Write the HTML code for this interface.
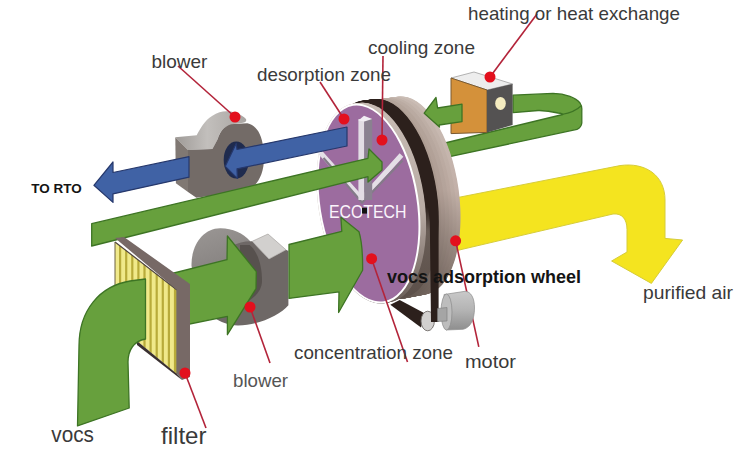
<!DOCTYPE html>
<html><head><meta charset="utf-8"><style>html,body{margin:0;padding:0;background:#fff;width:750px;height:456px;overflow:hidden}svg{display:block}</style></head>
<body><svg width="750" height="456" viewBox="0 0 750 456"><defs><clipPath id="fclip"><path d="M115,242 L177,290 L177,374 L137,341 L115,324 Z"/></clipPath></defs>

<defs>
<linearGradient id="btop" x1="0" y1="0" x2="1" y2="0"><stop offset="0" stop-color="#9e9a97"/><stop offset="0.45" stop-color="#c2bfbc"/><stop offset="1" stop-color="#a9a5a2"/></linearGradient>
<linearGradient id="btop2" x1="0" y1="0" x2="1" y2="0"><stop offset="0" stop-color="#8c8886"/><stop offset="0.6" stop-color="#b8b5b3"/><stop offset="1" stop-color="#8e8a88"/></linearGradient>
</defs>
<g id="blower1">
 <path d="M175.3,137.3 L196.7,135.3 C200,129 205,120 212,116 C218,112 223,111 228,111.3 C236,112 242,115 246,119 C247,121 245.5,122.3 243,122.8 L234,124 C228,126 224,128 223.3,128.7 C220,132 218.5,136 217.4,139.7 L212.4,149 L188,150 Z" fill="url(#btop)"/>
 <path d="M175.3,137.3 L188,150 L188,192 L175.9,183.2 Z" fill="#807873"/>
 <path d="M188,150 L212.4,149 L217.4,139.7 C219,135 221,131 223.3,128.7 C227,126 230,124 234,124 L247.3,123.3 C251,124 254,126 256.7,129.3 C261,134 264,145 264,158 C264,178 254,192 238,192 L196.4,197.7 L188,192 Z" fill="#736b67"/>
 <ellipse cx="236.3" cy="160" rx="12.6" ry="18.6" fill="#1f2b4e"/>
</g>
<path d="M440,201 L620,165.6 C645,162 665,175 665,200 L665,238.4 L682.6,240 L651.4,283.4 L611.6,261 L627,252 L627,229.7 C627,219 622,213 613,214 L455,251 Z" fill="#f4e41f" stroke="#d6cc3a" stroke-width="1"/>
<path d="M445,143 L562.8,114.5 C563,113.8 561,113.4 558,113 C550,111 545,110.3 538,110.5 L513,112.7 L513,95.2 L553,93.4 C566,93.5 576,98 580,103 C582,106 582,108 581.8,110 L581.8,123 C581.5,126 580,128 577,129.3 L445,157.7 Z" fill="#67a03d" stroke="#3d7424" stroke-width="1.3" stroke-linejoin="round"/>
<path d="M561.6,114.5 C570,113 577,110 580.9,106" fill="none" stroke="#3d7424" stroke-width="1.1"/>
<defs><linearGradient id="rim0" gradientUnits="userSpaceOnUse" x1="0" y1="95" x2="0" y2="300"><stop offset="0" stop-color="#b0a096"/><stop offset="0.5" stop-color="#ab9a90"/><stop offset="0.85" stop-color="#7d6f68"/><stop offset="1" stop-color="#645851"/></linearGradient><linearGradient id="rim1" gradientUnits="userSpaceOnUse" x1="0" y1="95" x2="0" y2="300"><stop offset="0" stop-color="#b5a69c"/><stop offset="0.5" stop-color="#b09e95"/><stop offset="0.85" stop-color="#80726b"/><stop offset="1" stop-color="#665a53"/></linearGradient><linearGradient id="rim2" gradientUnits="userSpaceOnUse" x1="0" y1="95" x2="0" y2="300"><stop offset="0" stop-color="#bbaca3"/><stop offset="0.5" stop-color="#b4a39a"/><stop offset="0.85" stop-color="#83756d"/><stop offset="1" stop-color="#685c55"/></linearGradient><linearGradient id="rim3" gradientUnits="userSpaceOnUse" x1="0" y1="95" x2="0" y2="300"><stop offset="0" stop-color="#c0b2a9"/><stop offset="0.5" stop-color="#b9a79e"/><stop offset="0.85" stop-color="#867770"/><stop offset="1" stop-color="#6b5e57"/></linearGradient><linearGradient id="rim4" gradientUnits="userSpaceOnUse" x1="0" y1="95" x2="0" y2="300"><stop offset="0" stop-color="#c6b8b0"/><stop offset="0.5" stop-color="#bdaca3"/><stop offset="0.85" stop-color="#897a72"/><stop offset="1" stop-color="#6d6059"/></linearGradient><linearGradient id="rim5" gradientUnits="userSpaceOnUse" x1="0" y1="95" x2="0" y2="300"><stop offset="0" stop-color="#cbbeb6"/><stop offset="0.5" stop-color="#c2b0a8"/><stop offset="0.85" stop-color="#8c7d75"/><stop offset="1" stop-color="#6f625b"/></linearGradient></defs>
<defs><linearGradient id="rimg" gradientUnits="userSpaceOnUse" x1="0" y1="95" x2="0" y2="300"><stop offset="0" stop-color="#c9bcb4"/><stop offset="0.5" stop-color="#bfaea6"/><stop offset="0.85" stop-color="#8a7b73"/><stop offset="1" stop-color="#6e615a"/></linearGradient><linearGradient id="rimg2" gradientUnits="userSpaceOnUse" x1="0" y1="95" x2="0" y2="300"><stop offset="0" stop-color="#b3a399"/><stop offset="0.5" stop-color="#ae9d94"/><stop offset="0.85" stop-color="#7d6f68"/><stop offset="1" stop-color="#645851"/></linearGradient>
<linearGradient id="beltg" gradientUnits="userSpaceOnUse" x1="0" y1="95" x2="0" y2="300"><stop offset="0" stop-color="#2c201c"/><stop offset="0.585" stop-color="#2c201c"/><stop offset="0.7" stop-color="#6a5e57"/><stop offset="1" stop-color="#5c504a"/></linearGradient><linearGradient id="ringg" gradientUnits="userSpaceOnUse" x1="0" y1="95" x2="0" y2="300"><stop offset="0" stop-color="#c9bdb6"/><stop offset="0.6" stop-color="#b9aca5"/><stop offset="1" stop-color="#6e625c"/></linearGradient></defs>
<g id="wheel">
<ellipse cx="412.00" cy="195.50" rx="47.00" ry="99.80" transform="rotate(-7.85 412.00 195.50)" fill="url(#rim5)"/>
<ellipse cx="411.39" cy="195.60" rx="47.04" ry="99.82" transform="rotate(-7.87 411.39 195.60)" fill="url(#rim5)"/>
<ellipse cx="410.77" cy="195.70" rx="47.09" ry="99.83" transform="rotate(-7.88 410.77 195.70)" fill="url(#rim5)"/>
<ellipse cx="410.16" cy="195.80" rx="47.13" ry="99.85" transform="rotate(-7.90 410.16 195.80)" fill="url(#rim5)"/>
<ellipse cx="409.54" cy="195.90" rx="47.18" ry="99.86" transform="rotate(-7.92 409.54 195.90)" fill="url(#rim5)"/>
<ellipse cx="408.93" cy="196.00" rx="47.22" ry="99.88" transform="rotate(-7.93 408.93 196.00)" fill="url(#rim5)"/>
<ellipse cx="408.31" cy="196.10" rx="47.27" ry="99.89" transform="rotate(-7.95 408.31 196.10)" fill="url(#rim5)"/>
<ellipse cx="407.70" cy="196.20" rx="47.31" ry="99.91" transform="rotate(-7.96 407.70 196.20)" fill="url(#rim4)"/>
<ellipse cx="407.09" cy="196.30" rx="47.35" ry="99.93" transform="rotate(-7.98 407.09 196.30)" fill="url(#rim4)"/>
<ellipse cx="406.47" cy="196.40" rx="47.40" ry="99.94" transform="rotate(-8.00 406.47 196.40)" fill="url(#rim4)"/>
<ellipse cx="405.86" cy="196.50" rx="47.44" ry="99.96" transform="rotate(-8.01 405.86 196.50)" fill="url(#rim4)"/>
<ellipse cx="405.24" cy="196.60" rx="47.49" ry="99.97" transform="rotate(-8.03 405.24 196.60)" fill="url(#rim4)"/>
<ellipse cx="404.63" cy="196.70" rx="47.53" ry="99.99" transform="rotate(-8.05 404.63 196.70)" fill="url(#rim4)"/>
<ellipse cx="404.01" cy="196.80" rx="47.58" ry="100.00" transform="rotate(-8.06 404.01 196.80)" fill="url(#rim4)"/>
<ellipse cx="403.40" cy="196.90" rx="47.62" ry="100.02" transform="rotate(-8.08 403.40 196.90)" fill="url(#rim3)"/>
<ellipse cx="402.79" cy="197.00" rx="47.66" ry="100.04" transform="rotate(-8.10 402.79 197.00)" fill="url(#rim3)"/>
<ellipse cx="402.17" cy="197.10" rx="47.71" ry="100.05" transform="rotate(-8.11 402.17 197.10)" fill="url(#rim3)"/>
<ellipse cx="401.56" cy="197.20" rx="47.75" ry="100.07" transform="rotate(-8.13 401.56 197.20)" fill="url(#rim3)"/>
<ellipse cx="400.94" cy="197.30" rx="47.80" ry="100.08" transform="rotate(-8.15 400.94 197.30)" fill="url(#rim3)"/>
<ellipse cx="400.33" cy="197.40" rx="47.84" ry="100.10" transform="rotate(-8.16 400.33 197.40)" fill="url(#rim3)"/>
<ellipse cx="399.71" cy="197.50" rx="47.89" ry="100.11" transform="rotate(-8.18 399.71 197.50)" fill="url(#rim2)"/>
<ellipse cx="399.10" cy="197.60" rx="47.93" ry="100.13" transform="rotate(-8.20 399.10 197.60)" fill="url(#rim2)"/>
<ellipse cx="398.49" cy="197.70" rx="47.97" ry="100.15" transform="rotate(-8.21 398.49 197.70)" fill="url(#rim2)"/>
<ellipse cx="397.87" cy="197.80" rx="48.02" ry="100.16" transform="rotate(-8.23 397.87 197.80)" fill="url(#rim2)"/>
<ellipse cx="397.26" cy="197.90" rx="48.06" ry="100.18" transform="rotate(-8.24 397.26 197.90)" fill="url(#rim2)"/>
<ellipse cx="396.64" cy="198.00" rx="48.11" ry="100.19" transform="rotate(-8.26 396.64 198.00)" fill="url(#rim2)"/>
<ellipse cx="396.03" cy="198.10" rx="48.15" ry="100.21" transform="rotate(-8.28 396.03 198.10)" fill="url(#rim2)"/>
<ellipse cx="395.41" cy="198.20" rx="48.20" ry="100.22" transform="rotate(-8.29 395.41 198.20)" fill="url(#rim1)"/>
<ellipse cx="394.80" cy="198.30" rx="48.24" ry="100.24" transform="rotate(-8.31 394.80 198.30)" fill="url(#rim1)"/>
<ellipse cx="394.19" cy="198.40" rx="48.28" ry="100.26" transform="rotate(-8.33 394.19 198.40)" fill="url(#rim1)"/>
<ellipse cx="393.57" cy="198.50" rx="48.33" ry="100.27" transform="rotate(-8.34 393.57 198.50)" fill="url(#rim1)"/>
<ellipse cx="392.96" cy="198.60" rx="48.37" ry="100.29" transform="rotate(-8.36 392.96 198.60)" fill="url(#rim1)"/>
<ellipse cx="392.34" cy="198.70" rx="48.42" ry="100.30" transform="rotate(-8.38 392.34 198.70)" fill="url(#rim1)"/>
<ellipse cx="391.73" cy="198.80" rx="48.46" ry="100.32" transform="rotate(-8.39 391.73 198.80)" fill="url(#rim1)"/>
<ellipse cx="391.11" cy="198.90" rx="48.51" ry="100.33" transform="rotate(-8.41 391.11 198.90)" fill="url(#rim0)"/>
<ellipse cx="390.50" cy="199.00" rx="48.55" ry="100.35" transform="rotate(-8.43 390.50 199.00)" fill="url(#rim0)"/>
<ellipse cx="389.89" cy="199.10" rx="48.59" ry="100.37" transform="rotate(-8.44 389.89 199.10)" fill="url(#rim0)"/>
<ellipse cx="389.27" cy="199.20" rx="48.64" ry="100.38" transform="rotate(-8.46 389.27 199.20)" fill="url(#rim0)"/>
<ellipse cx="388.66" cy="199.30" rx="48.68" ry="100.40" transform="rotate(-8.47 388.66 199.30)" fill="url(#rim0)"/>
<ellipse cx="388.04" cy="199.40" rx="48.73" ry="100.41" transform="rotate(-8.49 388.04 199.40)" fill="url(#rim0)"/>
<ellipse cx="388.43" cy="198.50" rx="48.77" ry="100.43" transform="rotate(-8.51 388.43 198.50)" fill="url(#beltg)"/>
<ellipse cx="387.81" cy="198.60" rx="48.82" ry="100.44" transform="rotate(-8.52 387.81 198.60)" fill="url(#beltg)"/>
<ellipse cx="387.20" cy="198.70" rx="48.86" ry="100.46" transform="rotate(-8.54 387.20 198.70)" fill="url(#beltg)"/>
<ellipse cx="386.59" cy="198.80" rx="48.90" ry="100.48" transform="rotate(-8.56 386.59 198.80)" fill="url(#beltg)"/>
<ellipse cx="385.97" cy="198.90" rx="48.95" ry="100.49" transform="rotate(-8.57 385.97 198.90)" fill="url(#beltg)"/>
<ellipse cx="385.36" cy="199.00" rx="48.99" ry="100.51" transform="rotate(-8.59 385.36 199.00)" fill="url(#beltg)"/>
<ellipse cx="384.74" cy="199.10" rx="49.04" ry="100.52" transform="rotate(-8.61 384.74 199.10)" fill="url(#beltg)"/>
<ellipse cx="384.13" cy="199.20" rx="49.08" ry="100.54" transform="rotate(-8.62 384.13 199.20)" fill="url(#beltg)"/>
<ellipse cx="383.51" cy="199.30" rx="49.13" ry="100.55" transform="rotate(-8.64 383.51 199.30)" fill="url(#beltg)"/>
<ellipse cx="382.90" cy="199.40" rx="49.17" ry="100.57" transform="rotate(-8.65 382.90 199.40)" fill="url(#beltg)"/>
<ellipse cx="382.29" cy="199.50" rx="49.21" ry="100.59" transform="rotate(-8.67 382.29 199.50)" fill="url(#beltg)"/>
<ellipse cx="381.67" cy="199.60" rx="49.26" ry="100.60" transform="rotate(-8.69 381.67 199.60)" fill="url(#beltg)"/>
<ellipse cx="381.06" cy="199.70" rx="49.30" ry="100.62" transform="rotate(-8.70 381.06 199.70)" fill="url(#beltg)"/>
<ellipse cx="380.44" cy="199.80" rx="49.35" ry="100.63" transform="rotate(-8.72 380.44 199.80)" fill="url(#beltg)"/>
<ellipse cx="379.83" cy="199.90" rx="49.39" ry="100.65" transform="rotate(-8.74 379.83 199.90)" fill="url(#beltg)"/>
<ellipse cx="379.21" cy="200.00" rx="49.44" ry="100.66" transform="rotate(-8.75 379.21 200.00)" fill="url(#beltg)"/>
<ellipse cx="378.60" cy="200.10" rx="49.48" ry="100.68" transform="rotate(-8.77 378.60 200.10)" fill="url(#beltg)"/>
<ellipse cx="377.99" cy="200.20" rx="49.52" ry="100.70" transform="rotate(-8.79 377.99 200.20)" fill="url(#beltg)"/>
<ellipse cx="377.37" cy="200.30" rx="49.57" ry="100.71" transform="rotate(-8.80 377.37 200.30)" fill="url(#beltg)"/>
<ellipse cx="376.76" cy="200.40" rx="49.61" ry="100.73" transform="rotate(-8.82 376.76 200.40)" fill="url(#beltg)"/>
<ellipse cx="374.64" cy="202.50" rx="49.66" ry="100.74" transform="rotate(-8.84 374.64 202.50)" fill="url(#ringg)"/>
<ellipse cx="374.03" cy="202.60" rx="49.70" ry="100.76" transform="rotate(-8.85 374.03 202.60)" fill="url(#ringg)"/>
<ellipse cx="373.41" cy="202.70" rx="49.75" ry="100.77" transform="rotate(-8.87 373.41 202.70)" fill="url(#ringg)"/>
<ellipse cx="372.80" cy="202.80" rx="49.79" ry="100.79" transform="rotate(-8.88 372.80 202.80)" fill="url(#ringg)"/>
<ellipse cx="372.19" cy="202.90" rx="49.83" ry="100.81" transform="rotate(-8.90 372.19 202.90)" fill="url(#ringg)"/>
<ellipse cx="371.57" cy="203.00" rx="49.88" ry="100.82" transform="rotate(-8.92 371.57 203.00)" fill="url(#ringg)"/>
<ellipse cx="370.96" cy="203.10" rx="49.92" ry="100.84" transform="rotate(-8.93 370.96 203.10)" fill="url(#ringg)"/>
<ellipse cx="370.34" cy="203.20" rx="49.97" ry="100.85" transform="rotate(-8.95 370.34 203.20)" fill="url(#ringg)"/>
<ellipse cx="369.73" cy="203.30" rx="50.01" ry="100.87" transform="rotate(-8.97 369.73 203.30)" fill="url(#ringg)"/>
<ellipse cx="369.11" cy="203.40" rx="50.06" ry="100.88" transform="rotate(-8.98 369.11 203.40)" fill="url(#ringg)"/>
<ellipse cx="368.50" cy="203.50" rx="50.10" ry="100.90" transform="rotate(-9.00 368.50 203.50)" fill="url(#ringg)"/>
<ellipse cx="368.5" cy="203.5" rx="50.1" ry="100.9" transform="rotate(-9 368.5 203.5)" fill="#ffffff"/>
<ellipse cx="368.5" cy="203.5" rx="48.1" ry="98.9" transform="rotate(-9 368.5 203.5)" fill="#9c6c9f"/>
</g>

<path d="M390.3,304.7 L399.7,300 L425,313.5 L421,327.5 Z" fill="#2c201c"/>
<ellipse cx="427.7" cy="321" rx="6.7" ry="9.8" fill="#d2d0cf" stroke="#6f6a68" stroke-width="0.9"/>
<path d="M427,196 L436.5,196 L438.6,222 L438.6,322 L431,322 L429.8,222 Z" fill="#2c201c"/>

<line x1="455.6" y1="240.8" x2="478.8" y2="346.8" stroke="#b3243a" stroke-width="1.6"/>

<linearGradient id="mot" x1="0" y1="0" x2="0" y2="1"><stop offset="0" stop-color="#c9c9c9"/><stop offset="0.5" stop-color="#b3b3b3"/><stop offset="1" stop-color="#8e8e8e"/></linearGradient>
<path d="M444,294.5 L465,291.3 C471,291.5 474.5,298 474.5,308 C474.5,320 470,328 463,329.3 L446,330 Z" fill="url(#mot)" stroke="#8c8c8c" stroke-width="0.7"/>
<ellipse cx="446.5" cy="312" rx="5.5" ry="18" fill="#bdbdbd" stroke="#8a8a8a" stroke-width="0.7"/>
<path d="M437.5,308.5 L447,307.5 L447,321 L437.5,321.5 Z" fill="#a5a5a5" stroke="#7a7a7a" stroke-width="0.6"/>


<path d="M320.4,152.6 L361.8,199 L401.5,155" fill="none" stroke="#e4dfe6" stroke-width="5" stroke-linejoin="miter"/>
<path d="M323.5,158 L362,202.5 L402.5,160.5" fill="none" stroke="#847a89" stroke-width="2.2"/>
<rect x="358.4" y="119" width="6" height="81" fill="#e2dde4"/>
<rect x="364.2" y="119" width="8" height="81" fill="#8a8190"/>
<path d="M358.4,120.4 L364,115.8 L372.2,119 L364.4,121.5 Z" fill="#f2eef4"/>

<text x="329" y="218" font-family="Liberation Sans, sans-serif" font-size="17.5" fill="#fbf4fb" textLength="77.5" lengthAdjust="spacingAndGlyphs">ECOTECH</text>
<rect x="362" y="207.8" width="5" height="5.8" fill="#111"/>

<path d="M347,127 L347,146 L237,168.8 L237.4,178.4 L225.3,166.3 L236.2,143.4 L237,149.5 Z" fill="#4062a5" stroke="#26386c" stroke-width="1.2" stroke-linejoin="round"/>
<path d="M189,156.7 L189,177.2 L113,193.9 L113,202.4 L93.9,185.3 L113,162 L113,172.5 Z" fill="#4062a5" stroke="#26386c" stroke-width="1.2" stroke-linejoin="round"/>

<path d="M91.7,223.7 L368,158.3 L369,149 L382,162 L382,170 L368,182 L368,176.6 L91.7,246 Z" fill="#67a03d" stroke="#3d7424" stroke-width="1.3" stroke-linejoin="round"/>

<path d="M451,78 L474,72 L512.6,84 L487,90 Z" fill="#ededed" stroke="#a0a0a0" stroke-width="0.8"/>
<path d="M451,78 L487,90 L487,132.4 L451,133.6 Z" fill="#d4913a" stroke="#7a5a30" stroke-width="1"/>
<path d="M487,90 L512.6,84 L512.6,125 L487,132.4 Z" fill="#545252"/>
<ellipse cx="500.5" cy="103.4" rx="5.3" ry="6.5" fill="#f5ecc0"/>

<path d="M462,104.2 L437.6,108 L436,97.5 L424.2,113.2 L439.5,127 L439.2,125 L462,121.6 Z" fill="#67a03d" stroke="#3d7424" stroke-width="1.3" stroke-linejoin="round"/>

<linearGradient id="lb" x1="0" y1="0" x2="0.3" y2="1"><stop offset="0" stop-color="#9b9795"/><stop offset="1" stop-color="#7c7876"/></linearGradient>
<path d="M191.5,266 C191,245 203,228.5 220,228.2 C232,228 243,233 250,241 L252,300 L200,300 Z" fill="url(#lb)"/>
<path d="M232,246 C238,243 245,241 252.2,241.3 L269,259 L286,249.8 L288.4,251 L288.4,305.3 C280,315 260,325 238,325.5 C228,325 220,322 215,318 Z" fill="#6e6866"/>
<path d="M252.2,241.3 L268,234 L286,249.8 L269,259 Z" fill="#d2d0ce" stroke="#9c9896" stroke-width="0.6"/>
<path d="M249.7,245 C258,252 262,266 262,281 C262,290 255,298 246,302 L240,302 L240,245 Z" fill="#57514e"/>

<path d="M170,274 L227,259.7 L227.4,236 L256.3,271.6 L256,288.7 L227.4,334.7 L227.4,316.3 L170,328 Z" fill="#67a03d" stroke="#3d7424" stroke-width="1.3" stroke-linejoin="round"/>
<path d="M115,242 L177,290 L177,374 L137,341 L115,324 Z" fill="#f0e98a"/>
<g clip-path="url(#fclip)"><rect x="119.0" y="235" width="2.2" height="150" fill="#b8ab3a"/><rect x="125.1" y="235" width="2.2" height="150" fill="#b8ab3a"/><rect x="131.2" y="235" width="2.2" height="150" fill="#b8ab3a"/><rect x="137.3" y="235" width="2.2" height="150" fill="#b8ab3a"/><rect x="143.4" y="235" width="2.2" height="150" fill="#b8ab3a"/><rect x="149.5" y="235" width="2.2" height="150" fill="#b8ab3a"/><rect x="155.6" y="235" width="2.2" height="150" fill="#b8ab3a"/><rect x="161.7" y="235" width="2.2" height="150" fill="#b8ab3a"/><rect x="167.8" y="235" width="2.2" height="150" fill="#b8ab3a"/><rect x="173.9" y="235" width="2.2" height="150" fill="#b8ab3a"/></g>
<path d="M115,242 L177,290 L177,374" fill="none" stroke="#4f4442" stroke-width="1.2"/><path d="M115,242 L115,300" fill="none" stroke="#6a6040" stroke-width="1"/>

<path d="M115,238 L124,237 L190,284 L190,377 L182,380 L177,374 L177,290 Z" fill="#776966"/>
<path d="M137,341 L177,374 L182,380 L137,345 Z" fill="#3a3030"/>

<path d="M145.5,279 L130,281 C100,286 79,310 79,346 L77.5,425.9 L129.2,408 L128,362 C128,350 134,341 145.5,339 Z" fill="#67a03d" stroke="#3d7424" stroke-width="1.3" stroke-linejoin="round"/>
<path d="M289,244.5 L341.8,231.3 L340.9,217.2 L359,231.7 C361.5,240 362.8,255 362.6,270.3 L338.6,312.5 L339,291.8 L289,298.4 Z" fill="#67a03d" stroke="#3d7424" stroke-width="1.3" stroke-linejoin="round"/>
<line x1="178" y1="66" x2="235" y2="117" stroke="#b3243a" stroke-width="1.6"/>
<line x1="320" y1="82" x2="344" y2="119" stroke="#b3243a" stroke-width="1.6"/>
<line x1="383" y1="56" x2="382" y2="140" stroke="#b3243a" stroke-width="1.6"/>
<line x1="537" y1="14" x2="490" y2="77" stroke="#b3243a" stroke-width="1.6"/>
<line x1="371.6" y1="258.7" x2="407.5" y2="362" stroke="#b3243a" stroke-width="1.6"/>
<line x1="250" y1="307" x2="270" y2="363" stroke="#b3243a" stroke-width="1.6"/>
<line x1="185" y1="373" x2="206" y2="428" stroke="#b3243a" stroke-width="1.6"/>
<circle cx="235" cy="117" r="5.5" fill="#e3101d"/>
<circle cx="344" cy="119" r="5.5" fill="#e3101d"/>
<circle cx="382" cy="140" r="5.5" fill="#e3101d"/>
<circle cx="490" cy="77" r="5.5" fill="#e3101d"/>
<circle cx="371.6" cy="258.7" r="5.5" fill="#e3101d"/>
<circle cx="455.6" cy="240.8" r="5.5" fill="#e3101d"/>
<circle cx="250" cy="307" r="5.5" fill="#e3101d"/>
<circle cx="185" cy="373" r="5.5" fill="#e3101d"/>
<text x="468" y="19.6" font-family="Liberation Sans, sans-serif" font-size="19" font-weight="normal" fill="#3a3a3a" textLength="212" lengthAdjust="spacingAndGlyphs">heating or heat exchange</text>
<text x="368" y="53.6" font-family="Liberation Sans, sans-serif" font-size="19" font-weight="normal" fill="#3a3a3a" textLength="107" lengthAdjust="spacingAndGlyphs">cooling zone</text>
<text x="257" y="81" font-family="Liberation Sans, sans-serif" font-size="19" font-weight="normal" fill="#3a3a3a" textLength="134" lengthAdjust="spacingAndGlyphs">desorption zone</text>
<text x="151.4" y="68" font-family="Liberation Sans, sans-serif" font-size="19" font-weight="normal" fill="#3a3a3a" textLength="56" lengthAdjust="spacingAndGlyphs">blower</text>
<text x="643" y="299" font-family="Liberation Sans, sans-serif" font-size="19" font-weight="normal" fill="#3a3a3a" textLength="90" lengthAdjust="spacingAndGlyphs">purified air</text>
<text x="294" y="359" font-family="Liberation Sans, sans-serif" font-size="19" font-weight="normal" fill="#3a3a3a" textLength="159" lengthAdjust="spacingAndGlyphs">concentration zone</text>
<text x="465" y="368" font-family="Liberation Sans, sans-serif" font-size="19" font-weight="normal" fill="#3a3a3a" textLength="51" lengthAdjust="spacingAndGlyphs">motor</text>
<text x="233" y="387" font-family="Liberation Sans, sans-serif" font-size="19" font-weight="normal" fill="#555" textLength="55" lengthAdjust="spacingAndGlyphs">blower</text>
<text x="51.3" y="442" font-family="Liberation Sans, sans-serif" font-size="22" font-weight="normal" fill="#3a3a3a" textLength="42.7" lengthAdjust="spacingAndGlyphs">vocs</text>
<text x="161" y="444" font-family="Liberation Sans, sans-serif" font-size="24" font-weight="normal" fill="#3a3a3a" textLength="45.5" lengthAdjust="spacingAndGlyphs">filter</text>
<text x="31.3" y="193" font-family="Liberation Sans, sans-serif" font-size="13.7" font-weight="bold" fill="#141414" textLength="50.3" lengthAdjust="spacingAndGlyphs">TO RTO</text>
<text x="387" y="283" font-family="Liberation Sans, sans-serif" font-size="18" font-weight="bold" fill="#141414" textLength="194" lengthAdjust="spacingAndGlyphs">vocs adsorption wheel</text>
</svg></body></html>
